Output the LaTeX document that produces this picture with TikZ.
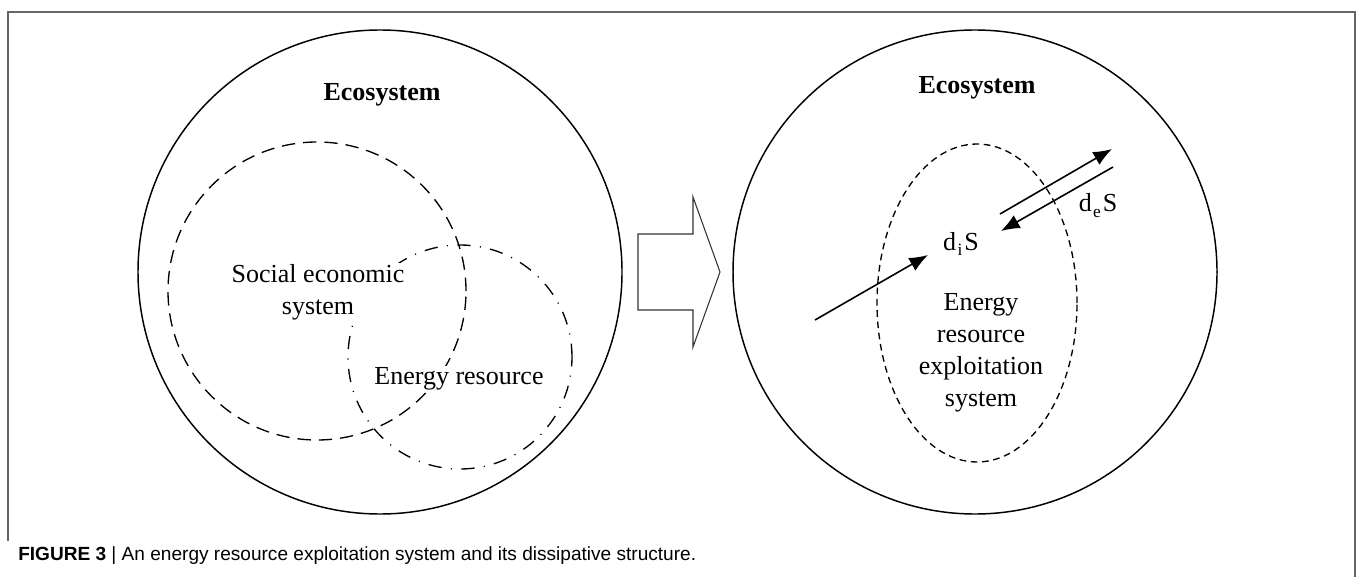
\documentclass[tikz,border=0pt]{standalone}
\usepackage{fontspec}
\setmainfont{Liberation Serif}
\newfontfamily\capfont{Liberation Sans}
\usetikzlibrary{arrows.meta, positioning, shapes.geometric}

\begin{document}
\begin{tikzpicture}[
        x=0.75pt, y=-0.75pt,
        eco/.style={circle, draw, line width=1.1pt, inner sep=0pt, minimum size=363pt},
        social/.style={circle, draw, line width=1pt, inner sep=0pt, minimum size=223.5pt, dash pattern=on 10pt off 6pt},
        energy/.style={circle, draw, line width=1pt, inner sep=0pt, minimum size=168pt, dash pattern=on 10pt off 7pt on 0.8pt off 7pt},
        exploit/.style={ellipse, draw, line width=1pt, inner sep=0pt, minimum width=150pt, minimum height=238.5pt, dash pattern=on 5pt off 3.5pt},
        txt/.style={font=\fontsize{19.5}{24}\selectfont, align=center, fill=white, inner sep=1pt},
        title/.style={font=\fontsize{19.5}{24}\selectfont\bfseries, inner sep=0pt, anchor=base},
        flow/.style={-{Latex[length=14pt, width=11pt]}, line width=1.2pt},
        frame/.style={draw=black!60, line width=1.5pt}
    ]
    \useasboundingbox (0,0) rectangle (1358,577);

    % frame
    \draw[frame] (8,541) -- (8,12) -- (1355,12) -- (1355,577);

    % left: ecosystem with two subsystems
    \node[eco] (eco_l) at (380,272) {};
    \node[social] (social) at (317,291) {};
    \node[energy] (energy) at (460,357) {};
    \node[title] (title_l) at (382,101) {Ecosystem};
    \node[txt] (social_txt) at (318,292) {Social economic\\system};
    \node[txt] (energy_txt) at (459,379) {Energy resource};

    % transition arrow
    \draw[line width=0.8pt, black!80] (638,234) -- (693,234) -- (693,197) -- (720,272)
        -- (693,347) -- (693,310) -- (638,310) -- cycle;

    % right: dissipative structure
    \node[eco] (eco_r) at (975,272) {};
    \node[exploit] (exploit) at (977,303) {};
    \node[title] (title_r) at (977,94) {Ecosystem};
    \node[txt] (exploit_txt) at (981,353) {Energy\\resource\\exploitation\\system};
    \node[txt, anchor=base] (di_s) at (961,250) {d\kern1pt\raisebox{-0.45ex}{\fontsize{13}{13}\selectfont i}\kern1.5pt S};
    \node[txt, anchor=base] (de_s) at (1098,212) {d\kern1pt\raisebox{-0.45ex}{\fontsize{13}{13}\selectfont e}\kern1.5pt S};

    % entropy flows
    \coordinate (in_a) at (815,320);
    \coordinate (in_b) at (928,255);
    \coordinate (out_a) at (1000,214);
    \coordinate (out_b) at (1112,149);
    \coordinate (back_a) at (1113,167);
    \coordinate (back_b) at (1001,231);
    \draw[flow] (in_a) -- (in_b);
    \draw[flow] (out_a) -- (out_b);
    \draw[flow] (back_a) -- (back_b);

    % caption
    \node[anchor=base west, inner sep=0pt, font=\capfont\fontsize{14.3}{16}\selectfont] (caption) at (18,560)
        {\textbf{FIGURE 3} | An energy resource exploitation system and its dissipative structure.};
\end{tikzpicture}
\end{document}
